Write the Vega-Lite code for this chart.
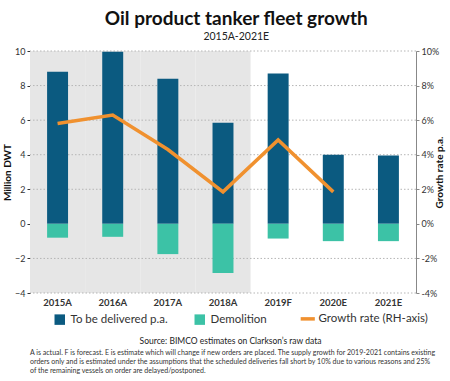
{
  "$schema": "https://vega.github.io/schema/vega-lite/v6.json",
  "padding": {"left": 2, "right": 4, "top": 9, "bottom": 0},
  "title": {
    "text": "Oil product tanker fleet growth",
    "subtitle": "2015A-2021E",
    "font": "Lato", "fontSize": 19, "fontWeight": "bold", "color": "#111",
    "subtitleFont": "Lato", "subtitleFontSize": 10.5, "subtitleColor": "#222",
    "anchor": "middle", "frame": "bounds", "offset": 5, "subtitlePadding": 3
  },
  "config": {
    "font": "Lato",
    "view": {"stroke": null},
    "axisX": {
      "titleFontSize": 8.5, "titleFontWeight": "normal", "titleColor": "#222",
      "titlePadding": 30, "titleX": 200,
      "labelAngle": 0, "domain": false, "ticks": false, "grid": false,
      "labelFontSize": 9.5, "labelFontWeight": "bold", "labelColor": "#333", "labelPadding": 4
    },
    "axisLeft": {
      "titleFontSize": 10, "titleFontWeight": "bold", "titleColor": "#111", "titlePadding": 2,
      "tickCount": 7, "grid": false,
      "domainColor": "#333", "tickColor": "#333", "tickSize": 3,
      "labelFontSize": 9, "labelColor": "#333", "labelPadding": 2
    },
    "axisRight": {
      "titleFontSize": 10, "titleFontWeight": "bold", "titleColor": "#111", "titlePadding": 6, "titleAngle": 270,
      "tickCount": 7, "grid": false,
      "domainColor": "#888", "tickColor": "#888", "tickSize": 3,
      "labelFontSize": 9, "labelColor": "#333", "labelPadding": 2
    }
  },
  "datasets": {
    "bars": [
      {"year": "2015A", "series": "To be delivered p.a.", "value": 8.8},
      {"year": "2016A", "series": "To be delivered p.a.", "value": 9.95},
      {"year": "2017A", "series": "To be delivered p.a.", "value": 8.4},
      {"year": "2018A", "series": "To be delivered p.a.", "value": 5.85},
      {"year": "2019F", "series": "To be delivered p.a.", "value": 8.7},
      {"year": "2020E", "series": "To be delivered p.a.", "value": 4.0},
      {"year": "2021E", "series": "To be delivered p.a.", "value": 3.95},
      {"year": "2015A", "series": "Demolition", "value": -0.8},
      {"year": "2016A", "series": "Demolition", "value": -0.75},
      {"year": "2017A", "series": "Demolition", "value": -1.75},
      {"year": "2018A", "series": "Demolition", "value": -2.85},
      {"year": "2019F", "series": "Demolition", "value": -0.85},
      {"year": "2020E", "series": "Demolition", "value": -1.0},
      {"year": "2021E", "series": "Demolition", "value": -1.0}
    ],
    "rate": [
      {"year": "2015A", "rate": 5.8},
      {"year": "2016A", "rate": 6.3},
      {"year": "2017A", "rate": 4.3},
      {"year": "2018A", "rate": 1.85},
      {"year": "2019F", "rate": 4.85},
      {"year": "2020E", "rate": 1.85}
    ],
    "actual": [
      {"year": "2015A"}, {"year": "2016A"}, {"year": "2017A"}, {"year": "2018A"}
    ],
    "grid": [
      {"v": -4}, {"v": -2}, {"v": 2}, {"v": 4}, {"v": 6}, {"v": 8}, {"v": 10}
    ]
  },
  "resolve": {"scale": {"color": "independent"}},
  "spacing": 4,
  "vconcat": [
    {
      "width": 386,
      "height": 242,
      "layer": [
        {
          "layer": [
            {
              "data": {"name": "actual"},
              "mark": {"type": "bar", "color": "#e6e6e6", "width": {"band": 1}},
              "encoding": {
                "x": {"field": "year", "type": "ordinal", "title": "Source: BIMCO estimates on Clarkson’s raw data", "scale": {"paddingInner": 0, "paddingOuter": 0}},
                "y": {"datum": 10, "type": "quantitative", "title": "Million DWT", "scale": {"domain": [-4, 10], "nice": false}},
                "y2": {"datum": -4}
              }
            },
            {
              "data": {"name": "grid"},
              "mark": {"type": "rule", "color": "#b5b5b5", "strokeDash": [1.5, 2], "strokeWidth": 1},
              "encoding": {
                "y": {"field": "v", "type": "quantitative", "title": "Million DWT"}
              }
            },
            {
              "data": {"name": "bars"},
              "mark": {"type": "bar", "width": {"band": 0.38}},
              "encoding": {
                "x": {"field": "year", "type": "ordinal", "title": "Source: BIMCO estimates on Clarkson’s raw data"},
                "y": {"field": "value", "type": "quantitative", "stack": null, "title": "Million DWT"},
                "color": {
                  "field": "series", "type": "nominal",
                  "scale": {
                    "domain": ["To be delivered p.a.", "Demolition", "Growth rate (RH-axis)"],
                    "range": ["#0b5a80", "#3cc2a6", "#f0912f"]
                  },
                  "legend": {
                    "title": null, "orient": "none", "direction": "horizontal",
                    "legendX": 24, "legendY": 262,
                    "labelFontSize": 11.5, "labelColor": "#333", "labelOffset": 5,
                    "columnPadding": 26, "symbolSize": 110,
                    "encode": {
                      "symbols": {
                        "update": {
                          "shape": {"signal": "datum.value === 'Growth rate (RH-axis)' ? 'stroke' : 'square'"},
                          "fill": {"signal": "datum.value === 'To be delivered p.a.' ? '#0b5a80' : datum.value === 'Demolition' ? '#3cc2a6' : 'transparent'"},
                          "stroke": {"signal": "datum.value === 'To be delivered p.a.' ? '#0b5a80' : datum.value === 'Demolition' ? '#3cc2a6' : '#f0912f'"},
                          "strokeWidth": {"signal": "datum.value === 'Growth rate (RH-axis)' ? 3.5 : 0"},
                          "size": {"signal": "datum.value === 'Growth rate (RH-axis)' ? 200 : 110"}
                        }
                      }
                    }
                  }
                }
              }
            },
            {
              "mark": {"type": "rule", "color": "#444", "strokeWidth": 1},
              "encoding": {
                "y": {"datum": 0, "type": "quantitative", "title": "Million DWT"}
              }
            }
          ]
        },
        {
          "data": {"name": "rate"},
          "mark": {"type": "line", "strokeWidth": 3.5, "strokeJoin": "miter"},
          "encoding": {
            "x": {"field": "year", "type": "ordinal", "title": "Source: BIMCO estimates on Clarkson’s raw data"},
            "y": {
              "field": "rate", "type": "quantitative", "title": "Growth rate p.a.",
              "scale": {"domain": [-4, 10], "nice": false},
              "axis": {"orient": "right", "labelExpr": "datum.value + '%'"}
            },
            "color": {"datum": "Growth rate (RH-axis)"}
          }
        }
      ],
      "resolve": {"scale": {"y": "independent"}}
    },
    {
      "width": 440,
      "height": 1,
      "data": {"values": []},
      "mark": "point",
      "title": {
        "text": [
          "A is actual. F is forecast. E is estimate which will change if new orders are placed. The supply growth for 2019-2021 contains existing",
          "orders only and is estimated under the assumptions that the scheduled deliveries fall short by 10% due to various reasons and 25%",
          "of the remaining vessels on order are delayed/postponed."
        ],
        "anchor": "start", "font": "Lato", "fontSize": 7, "fontWeight": "normal", "color": "#333",
        "lineHeight": 9, "offset": 0
      }
    }
  ]
}
